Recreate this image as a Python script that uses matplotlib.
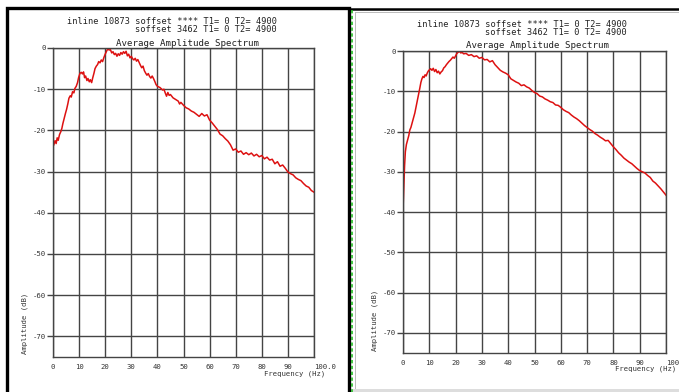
import matplotlib
matplotlib.use("Agg")
import matplotlib.pyplot as plt
from matplotlib.patches import Rectangle
from matplotlib.lines import Line2D

# ---------------- data ----------------
left_freq = [0.3, 0.8, 1.2, 1.6, 2.0, 2.5, 3.0, 3.4, 3.8, 4.3, 4.8, 5.2, 5.7, 6.1, 6.6, 7.0,
             7.5, 8.0, 8.4, 8.9, 9.4, 9.8, 10.3, 10.8, 11.3, 11.7, 12.1, 12.5, 13.0, 13.4,
             13.9, 14.3, 14.8, 15.2, 15.7, 16.1, 16.6, 17.1, 17.5, 18.0, 18.5, 19.0, 19.5,
             20.0, 20.5, 21.0, 21.5, 22.0, 22.5, 23.0, 23.5, 24.0, 24.5, 25.0, 25.5, 26.0,
             26.5, 27.0, 27.5, 28.0, 28.5, 29.0, 29.5, 30.0, 30.5, 31.0, 31.5, 32.0, 32.5,
             33.0, 33.5, 34.0, 34.5, 35.0, 35.5, 36.0, 36.5, 37.0, 37.5, 38.0, 38.5, 39.0,
             39.5, 40.0, 41.0, 42.0, 42.5, 43.0, 43.5, 44.0, 44.5, 45.0, 46.0, 47.0, 48.0,
             48.5, 49.0, 50.0, 51.0, 52.0, 53.0, 54.0, 55.0, 56.0, 57.0, 58.0, 59.0, 60.0,
             61.0, 62.0, 63.0, 64.0, 65.0, 66.0, 67.0, 68.0, 69.0, 70.0, 71.0, 72.0, 73.0,
             74.0, 75.0, 76.0, 77.0, 78.0, 79.0, 80.0, 81.0, 82.0, 83.0, 84.0, 85.0, 86.0,
             87.0, 88.0, 89.0, 90.0, 91.0, 92.0, 93.0, 94.0, 95.0, 96.0, 97.0, 98.0, 99.0, 100.0]
left_amp = [-23.5, -22.5, -23.2, -21.8, -22.4, -21.0, -20.3, -19.5, -18.3, -17.0, -15.8, -14.9,
            -13.5, -12.2, -11.6, -11.9, -10.6, -10.9, -9.8, -9.3, -8.4, -7.2, -6.2, -5.9, -6.3,
            -5.8, -7.2, -6.8, -7.9, -7.4, -8.2, -7.7, -8.4, -7.3, -6.1, -5.0, -4.4, -4.0, -3.3,
            -3.6, -2.9, -3.3, -2.3, -1.5, -0.8, -0.2, -0.5, -0.4, -1.2, -0.9, -1.6, -1.3, -2.0,
            -1.4, -1.8, -1.1, -1.5, -0.9, -1.3, -0.8, -1.9, -1.5, -2.4, -2.0, -2.6, -2.9, -2.5,
            -3.2, -2.8, -3.5, -4.2, -4.8, -4.4, -5.5, -6.1, -6.6, -6.2, -6.9, -7.3, -6.8, -7.4,
            -8.1, -8.9, -9.3, -9.6, -10.2, -10.0, -10.9, -11.7, -10.8, -11.5, -11.3, -12.1,
            -12.5, -12.9, -13.6, -13.2, -13.9, -14.5, -14.8, -15.3, -15.6, -16.1, -16.6, -15.9,
            -16.5, -16.2, -17.5, -18.2, -19.0, -19.8, -20.9, -21.3, -22.0, -22.6, -23.5, -24.8,
            -24.5, -25.3, -25.0, -25.8, -25.4, -25.9, -25.5, -26.2, -25.8, -26.4, -26.1, -26.9,
            -26.5, -27.2, -27.0, -28.1, -27.6, -28.7, -28.4, -29.2, -30.1, -30.5, -30.8, -31.5,
            -31.9, -32.2, -32.9, -33.5, -33.8, -34.6, -35.0]

right_freq = [0.0, 0.2, 0.4, 0.6, 0.9, 1.3, 1.8, 2.2, 2.6, 3.0, 3.5, 4.0, 4.5, 5.0, 5.5, 6.0,
              6.4, 6.8, 7.2, 7.6, 8.0, 8.4, 8.8, 9.2, 9.6, 10.0, 10.5, 11.0, 11.5, 12.0, 12.5,
              13.0, 13.5, 14.0, 14.5, 15.0, 15.5, 16.0, 16.5, 17.0, 17.5, 18.0, 18.5, 19.0,
              19.5, 20.0, 20.5, 21.0, 21.5, 22.0, 22.5, 23.0, 24.0, 25.0, 26.0, 27.0, 28.0,
              29.0, 30.0, 31.0, 32.0, 33.0, 34.0, 35.0, 36.0, 37.0, 38.0, 39.0, 40.0, 41.0,
              42.0, 43.0, 44.0, 45.0, 46.0, 47.0, 48.0, 49.0, 50.0, 51.0, 52.0, 53.0, 54.0,
              55.0, 56.0, 57.0, 58.0, 59.0, 60.0, 61.0, 62.0, 63.0, 64.0, 65.0, 66.0, 67.0,
              68.0, 69.0, 70.0, 71.0, 72.0, 73.0, 74.0, 75.0, 76.0, 77.0, 78.0, 79.0, 80.0,
              81.0, 82.0, 83.0, 84.0, 85.0, 86.0, 87.0, 88.0, 89.0, 90.0, 91.0, 92.0, 93.0,
              94.0, 95.0, 96.0, 97.0, 98.0, 99.0, 100.0]
right_amp = [-39.5, -36.0, -32.0, -28.5, -25.0, -23.2, -22.0, -21.0, -19.6, -19.0, -17.8, -16.6,
             -15.4, -13.8, -12.2, -10.5, -9.2, -7.8, -6.9, -6.3, -6.6, -5.9, -6.2, -5.5, -5.0,
             -4.7, -4.4, -4.8, -4.3, -5.1, -4.6, -5.4, -5.0, -5.7, -5.2, -4.9, -4.2, -3.9, -3.4,
             -3.0, -2.6, -2.3, -1.9, -1.5, -1.8, -1.2, -0.6, -0.3, -0.1, -0.5, -0.3, -0.7, -0.6,
             -1.1, -0.9, -1.4, -1.2, -1.8, -1.6, -2.2, -2.1, -2.7, -2.4, -3.4, -4.1, -4.8, -5.2,
             -5.5, -5.9, -6.9, -7.3, -7.7, -8.0, -8.6, -8.4, -8.9, -9.2, -9.8, -10.3, -10.6,
             -11.2, -11.4, -11.9, -12.2, -12.6, -12.8, -13.4, -13.5, -14.0, -14.6, -15.0, -15.3,
             -15.9, -16.4, -16.8, -17.3, -17.9, -18.5, -19.0, -19.5, -19.9, -20.5, -20.9, -21.4,
             -21.8, -22.3, -22.2, -23.0, -23.8, -24.5, -25.3, -25.9, -26.6, -27.1, -27.6, -28.0,
             -28.6, -29.2, -29.7, -30.0, -30.3, -30.9, -31.4, -32.3, -32.8, -33.5, -34.2, -35.0,
             -35.8]

x_ticks = [0, 10, 20, 30, 40, 50, 60, 70, 80, 90, 100]
x_tick_labels = ["0", "10", "20", "30", "40", "50", "60", "70", "80", "90", "100.0"]
y_ticks = [0, -10, -20, -30, -40, -50, -60, -70]
y_tick_labels = ["0", "-10", "-20", "-30", "-40", "-50", "-60", "-70"]

header_line1 = "inline 10873 soffset **** T1= 0 T2= 4900"
header_line2 = "soffset 3462 T1= 0 T2= 4900"
plot_title = "Average Amplitude Spectrum"
x_label = "Frequency (Hz)"
y_label = "Amplitude (dB)"

# ---------------- figure ----------------
W, H = 679, 392
fig = plt.figure(figsize=(W / 100, H / 100), dpi=100)
fig.patch.set_facecolor("white")
FONT = "DejaVu Sans Mono"
GRID = "#444444"
RED = "#dd1111"


def fx(px):
    return px / W


def fy(py):
    return 1 - py / H


def make_panel(x0, x1, y_top, y_bot, freq, amp, head_x_right, head_y1, head_y2, title_x, title_y,
               ylab_x, ylab_y, xlab_x, xlab_y):
    ax = fig.add_axes([fx(x0), fy(y_bot), fx(x1 - x0), (y_bot - y_top) / H])
    ax.set_xlim(0, 100)
    ax.set_ylim(-75, 0)
    ax.set_xticks(x_ticks)
    ax.set_xticklabels(x_tick_labels)
    ax.set_yticks(y_ticks)
    ax.set_yticklabels(y_tick_labels)
    ax.grid(True, color=GRID, linewidth=1.0)
    for s in ax.spines.values():
        s.set_color(GRID)
        s.set_linewidth(1.0)
    ax.tick_params(axis="y", direction="out", length=4, width=1.0, color=GRID,
                   labelsize=5.2, labelcolor="#333333", pad=1)
    ax.tick_params(axis="x", length=0, labelsize=5.2, labelcolor="#333333", pad=5)
    for lab in ax.get_xticklabels():
        lab.set_fontfamily(FONT)
    for lab in ax.get_yticklabels():
        lab.set_fontfamily(FONT)
    last = ax.get_xticklabels()[-1]
    last.set_horizontalalignment("left")
    ax.plot(freq, amp, color=RED, linewidth=1.1)
    ax.set_axisbelow(True)

    fig.text(fx(head_x_right), fy(head_y1), header_line1, ha="right", va="center",
             fontsize=6.2, family=FONT, color="#222222")
    fig.text(fx(head_x_right), fy(head_y2), header_line2, ha="right", va="center",
             fontsize=6.2, family=FONT, color="#222222")
    fig.text(fx(title_x), fy(title_y), plot_title, ha="center", va="center",
             fontsize=6.6, family=FONT, color="#222222")
    fig.text(fx(ylab_x), fy(ylab_y), y_label, ha="center", va="center", rotation=90,
             fontsize=5.2, family=FONT, color="#333333")
    fig.text(fx(xlab_x), fy(xlab_y), x_label, ha="center", va="center",
             fontsize=5.2, family=FONT, color="#333333")
    return ax


make_panel(53, 314, 48, 357, left_freq, left_amp, 277, 21, 29, 187, 43, 25, 323, 295, 374)
make_panel(403, 666, 51, 353, right_freq, right_amp, 627, 24.5, 32.5, 537, 46, 375, 320, 646, 369)

# ---------------- panel frames ----------------
fig.add_artist(Rectangle((fx(6.5), fy(400)), fx(342), (400 - 7.5) / H, transform=fig.transFigure,
                         fill=False, edgecolor="black", linewidth=2.4))
fig.add_artist(Line2D([fx(349), fx(679)], [fy(9), fy(9)], transform=fig.transFigure,
                      color="black", linewidth=1.8))
fig.add_artist(Line2D([fx(351.5), fx(351.5)], [fy(10), fy(392)], transform=fig.transFigure,
                      color="#22bb22", linewidth=1.2, linestyle=(0, (2, 1.5))))
fig.add_artist(Line2D([fx(355), fx(679)], [fy(11.5), fy(11.5)], transform=fig.transFigure,
                      color="#bbbbbb", linewidth=0.7))
fig.add_artist(Line2D([fx(355), fx(355)], [fy(11.5), fy(388)], transform=fig.transFigure,
                      color="#bbbbbb", linewidth=0.7))
fig.add_artist(Rectangle((fx(353), 0), fx(326), 3.5 / H, transform=fig.transFigure,
                         facecolor="#dddddd", edgecolor="none"))

fig.savefig("out.png", dpi=100, facecolor="white")
